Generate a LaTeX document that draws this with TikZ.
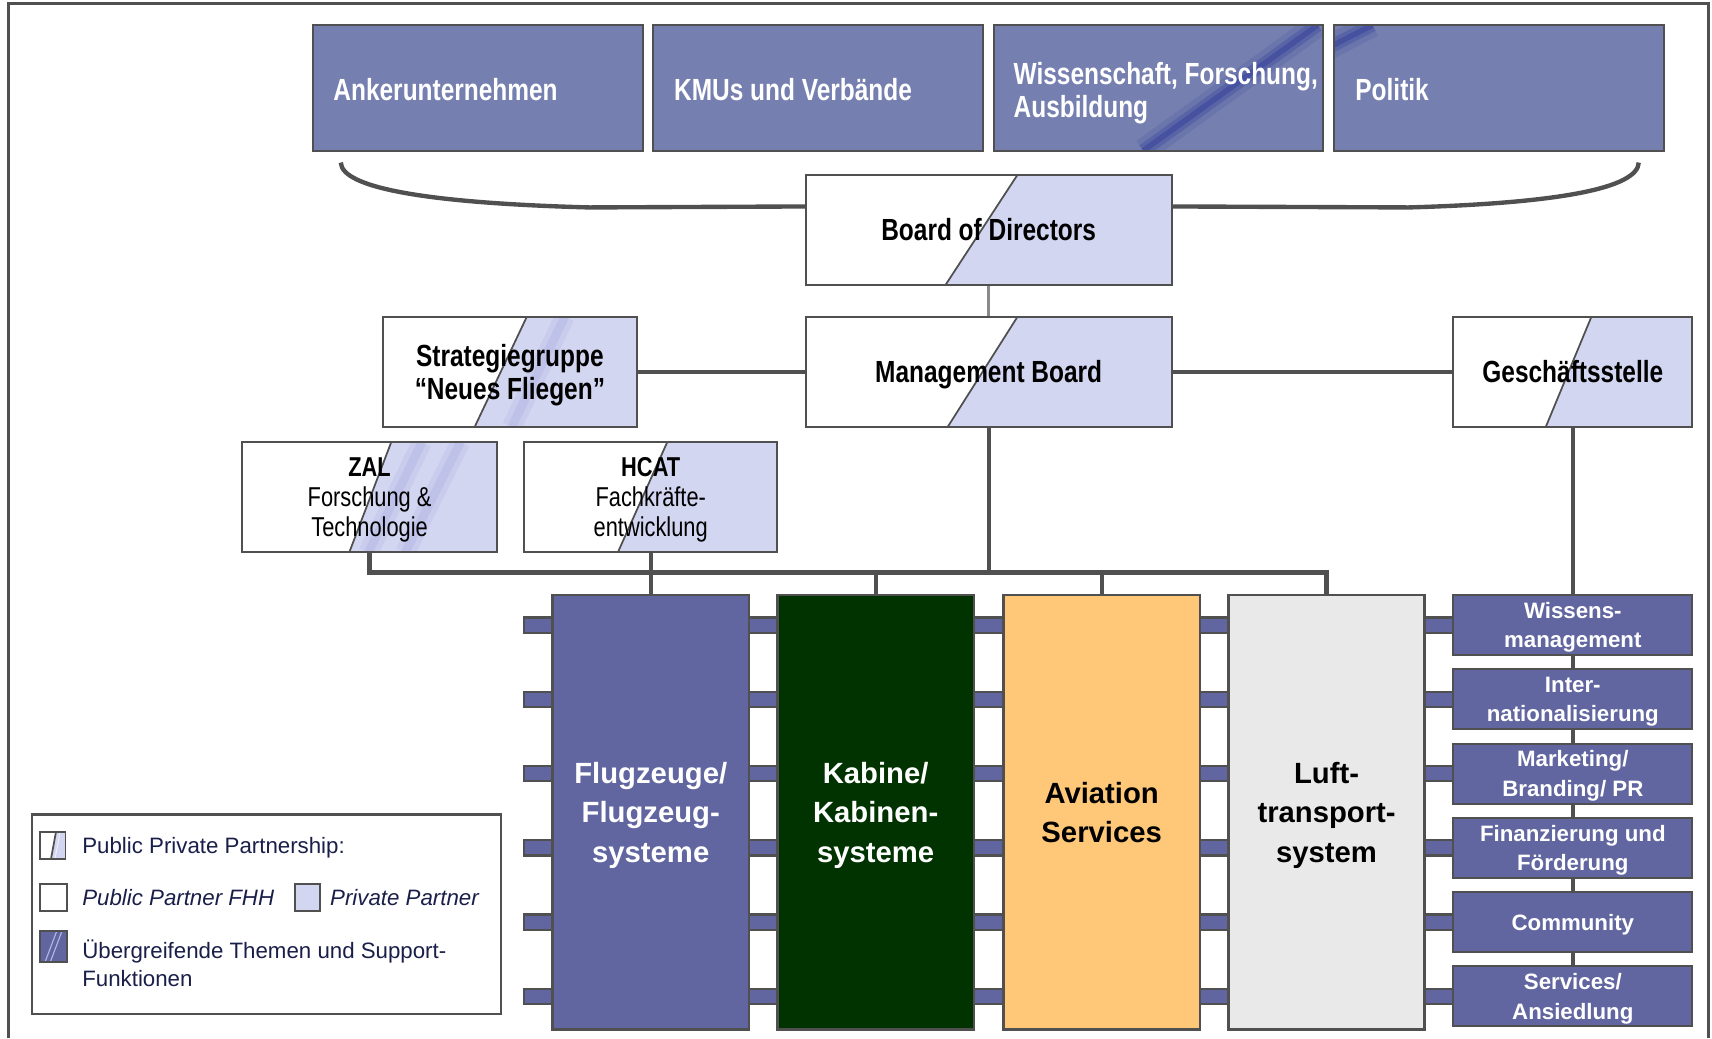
\documentclass[tikz,border=0pt]{standalone}
\usepackage{fontspec}
\setmainfont{Liberation Sans}
\newfontfamily\narrowfont{Liberation Sans}[FakeStretch=0.8]
\usetikzlibrary{calc}
\definecolor{linegray}{HTML}{505050}
\definecolor{midgray}{HTML}{8A8A8A}
\definecolor{topblue}{HTML}{7680B0}
\definecolor{lav}{HTML}{D3D6F0}
\definecolor{lavband}{HTML}{B4B8E4}
\definecolor{colblue}{HTML}{6166A0}
\definecolor{dkgreen}{HTML}{003300}
\definecolor{orng}{HTML}{FFC878}
\definecolor{ltgray}{HTML}{E9E9E9}
\definecolor{navy}{HTML}{1A1F4A}
\definecolor{stripe}{HTML}{4652A0}
\newcommand\pppdraw[2]{%
  \fill[lav] ($(path picture bounding box.north west)!#1!(path picture bounding box.north east)$) -- (path picture bounding box.north east) -- (path picture bounding box.south east) -- ($(path picture bounding box.south west)!#2!(path picture bounding box.south east)$) -- cycle;
  \draw[linegray, line width=0.8pt] ($(path picture bounding box.north west)!#1!(path picture bounding box.north east)$) -- ($(path picture bounding box.south west)!#2!(path picture bounding box.south east)$);}
\newcommand\bandline[4]{%
  \draw[#3, line width=#4] ($(path picture bounding box.north west)!#1!(path picture bounding box.north east)$) -- ($(path picture bounding box.south west)!#2!(path picture bounding box.south east)$);}
\newcommand\softband[2]{\bandline{#1}{#2}{lavband, opacity=0.3}{9pt}\bandline{#1}{#2}{lavband, opacity=0.45}{4pt}}
\newcommand\darkband[2]{\bandline{#1}{#2}{stripe!40!topblue, opacity=0.6}{11pt}\bandline{#1}{#2}{stripe!70!topblue, opacity=0.8}{6pt}\bandline{#1}{#2}{stripe}{2.5pt}}
\tikzset{
  sz/.style args={#1/#2}{minimum width=#1*0.5pt, minimum height=#2*0.5pt},
  bx/.style={rectangle, inner sep=0pt, text depth=0pt, draw=linegray, line width=0.9pt},
  tb/.style={bx, fill=topblue, sz=302/115},
  toptext/.style={anchor=west, inner sep=0pt, text=white, align=left, font=\narrowfont\fontsize{14pt}{15pt}\selectfont\bfseries},
  pb/.style={bx, fill=white, align=center, font=\narrowfont\fontsize{14pt}{15pt}\selectfont\bfseries},
  sp/.style={bx, fill=white, align=center, sz=232/101, font=\narrowfont\fontsize{12.5pt}{13.75pt}\selectfont},
  col/.style={bx, fill=#1, sz=180/398, line width=1.3pt, align=center, font=\fontsize{13.4pt}{18.25pt}\selectfont\bfseries},
  rb/.style={bx, fill=colblue, sz=219/55, text=white, align=center, font=\fontsize{10.2pt}{13.5pt}\selectfont\bfseries},
  legtext/.style={anchor=west, inner sep=0pt, text=navy, align=left, font=\fontsize{10.2pt}{13pt}\selectfont},
  stripbar/.style={fill=colblue, draw=linegray, line width=1pt},
  conn/.style={draw=linegray, line width=1.9pt},
  bus/.style={draw=linegray, line width=2.3pt},
  bracel/.style={draw=linegray, line width=2pt},
  framel/.style={draw=linegray, line width=1.5pt}
}
\begin{document}
\begin{tikzpicture}[x=0.5pt,y=-0.5pt]
\useasboundingbox (0,0) rectangle (1568,951);
\draw[framel] (8,951) -- (8,3) -- (1565,3) -- (1565,951);

% horizontal bars behind the columns
\foreach \c in {572.5,640.5,708.5,776.5,844.5,912.5}
  \draw[stripbar] (480,\c-7) rectangle (1333,\c+7);

% top row
\node[tb] (anker) at (438,80.5) {};
\node[toptext] (ankerT) at (305,82) {Ankerunternehmen};
\node[tb] (kmu) at (749,80.5) {};
\node[toptext] (kmuT) at (617,82) {KMUs und Verbände};
\node[tb, path picture={\darkband{0.983}{0.454}}] (wiss) at (1061,80.5) {};
\node[toptext] (wissT) at (928,85) {Wissenschaft, Forschung,\\Ausbildung};
\node[tb, path picture={\darkband{0.116}{-0.626}}] (pol) at (1373,80.5) {};
\node[toptext] (polT) at (1241,82) {Politik};

% boards
\node[pb, sz=335/101, path picture={\pppdraw{0.579}{0.382}}] (bod) at (905.5,210.5) {Board of Directors};
\node[pb, sz=335/101, path picture={\pppdraw{0.579}{0.388}}] (mb) at (905.5,340.5) {Management Board};
\node[pb, sz=232/101, path picture={\pppdraw{0.567}{0.361}\softband{0.717}{0.507}}] (sg) at (467,340.5) {Strategiegruppe\\“Neues Fliegen”};
\node[pb, sz=219/101, path picture={\pppdraw{0.578}{0.387}}] (gs) at (1440.5,340.5) {Geschäftsstelle};
\node[sp, sz=233/101, path picture={\pppdraw{0.585}{0.42}\softband{0.706}{0.495}\softband{0.857}{0.64}}] (zal) at (338.5,455.5) {\textbf{ZAL}\\Forschung \&\\Technologie};
\node[sp, path picture={\pppdraw{0.565}{0.37}}] (hcat) at (596,455.5) {\textbf{HCAT}\\Fachkräfte-\\entwicklung};

% brace
\draw[bracel] ($(anker.south west)+(26,10)$) .. controls (313,172) and (390,186) .. (540,190) -- ($(bod.north west)+(0,30)$);
\draw[bracel] ($(bod.north east)+(0,30)$) -- (1290,190) .. controls (1430,186) and (1500,172) .. ($(pol.south east)+(-24,10)$);

% columns
\node[col=colblue, text=white] (c1) at (596,744) {Flugzeuge/\\Flugzeug-\\systeme};
\node[col=dkgreen, text=white] (c2) at (802,744) {Kabine/\\Kabinen-\\systeme};
\node[col=orng, text=black] (c3) at (1009,744) {Aviation\\Services};
\node[col=ltgray, text=black] (c4) at (1215,744) {Luft-\\transport-\\system};

% support functions
\node[rb] (r1) at (1440.5,572.5) {Wissens-\\management};
\node[rb] (r2) at (1440.5,640.5) {Inter-\\nationalisierung};
\node[rb] (r3) at (1440.5,708.5) {Marketing/\\Branding/ PR};
\node[rb] (r4) at (1440.5,776.5) {Finanzierung und\\Förderung};
\node[rb] (r5) at (1440.5,844.5) {Community};
\node[rb] (r6) at (1440.5,912.5) {Services/\\Ansiedlung};

% connectors
\draw[conn, draw=midgray, line width=1.5pt] (bod.south) -- (mb.north);
\draw[conn] (sg.east) -- (mb.west);
\draw[conn] (mb.east) -- (gs.west);
\draw[conn] (gs.south) -- (r1.north);
\foreach \a/\b in {r1/r2,r2/r3,r3/r4,r4/r5,r5/r6}
  \draw[conn] (\a.south) -- (\b.north);
\coordinate (busY) at (0,524);
\draw[bus] (zal.south) |- (c4.north |- busY) -- (c4.north);
\draw[conn] (mb.south) -- (mb.south |- busY);
\draw[conn] (hcat.south) -- (c1.north);
\draw[conn] (c2.north |- busY) -- (c2.north);
\draw[conn] (c3.north |- busY) -- (c3.north);

% legend
\node[bx, fill=white, line width=1pt, sz=430/183] (leg) at (244,837.5) {};
\node[bx, fill=white, sz=23/25, path picture={\pppdraw{0.62}{0.42}\bandline{0.78}{0.58}{white, opacity=0.7}{0.4pt}}] (legppp) at (48.5,774.5) {};
\node[legtext] (legpppT) at (75,776) {Public Private Partnership:};
\node[bx, fill=white, sz=24/24] (legpub) at (49,822) {};
\node[legtext] (legpubT) at (75,822) {\itshape Public Partner FHH};
\node[bx, fill=lav, sz=23/24] (legpriv) at (281.5,822) {};
\node[legtext] (legprivT) at (302,822) {\itshape Private Partner};
\node[bx, fill=colblue, sz=24/28, path picture={\bandline{0.62}{0.18}{lavband}{0.5pt}\bandline{0.82}{0.38}{lavband}{0.5pt}}] (legsup) at (49,867) {};
\node[legtext] (legsupT) at (75,882) {Übergreifende Themen und Support-\\Funktionen};
\end{tikzpicture}
\end{document}
